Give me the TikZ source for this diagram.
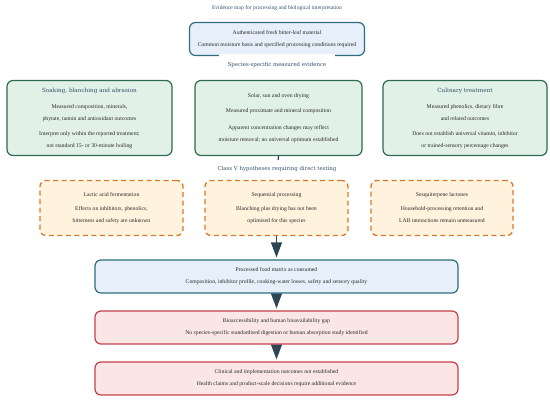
\documentclass[tikz,border=0pt]{standalone}
\usepackage{fontspec}
\setmainfont{Liberation Serif}
\newfontfamily\headfont{DejaVu Serif}
\usetikzlibrary{arrows.meta,backgrounds}
\definecolor{tealline}{HTML}{2B6E7E}
\definecolor{bluefill}{HTML}{E7EFFA}
\definecolor{greenline}{HTML}{2F6B50}
\definecolor{greenfill}{HTML}{E2F1E7}
\definecolor{orangeline}{HTML}{D9782D}
\definecolor{orangefill}{HTML}{FFF3DD}
\definecolor{redline}{HTML}{C6404A}
\definecolor{redfill}{HTML}{FBE6E6}
\definecolor{arrowc}{HTML}{2E4553}
\definecolor{headc}{HTML}{34506A}
\definecolor{bodyc}{HTML}{2A2A2A}
\begin{document}
\begin{tikzpicture}
		[x=1pt,y=-1pt,
		box/.style={rounded corners=6pt, line width=1.2pt, inner sep=0pt,
			align=center, text=bodyc, font=\fontsize{5.7}{12}\selectfont},
		bluebox/.style={box, draw=tealline, fill=bluefill,
			minimum height=33pt},
		greenbox/.style={box, draw=greenline, fill=greenfill,
			minimum height=75pt},
		hypbox/.style={box, draw=orangeline, fill=orangefill, dashed,
			dash pattern=on 5pt off 3.5pt, line width=1.3pt,
			minimum width=143pt, minimum height=55pt},
		gapbox/.style={box, draw=redline, fill=redfill,
			minimum width=363pt, minimum height=33pt},
		band/.style={fill=white, inner xsep=9pt, inner ysep=8pt,
			text=headc, font=\headfont\fontsize{5.4}{7}\selectfont},
		link/.style={draw=arrowc, line width=1.3pt,
			-{Triangle[length=15pt,width=11pt]}, shorten >=2pt}]
		\useasboundingbox (0,0) rectangle (550,403);
		\node[text=headc, font=\fontsize{5.6}{7}\selectfont] (title) at (277,8)
			{Evidence map for processing and biological interpretation};
		\node[bluebox, minimum width=175pt] (top) at (277,39)
			{Authenticated fresh bitter-leaf material\\
			Common moisture basis and specified processing conditions required};
		\node[greenbox, minimum width=165pt] (soak) at (89.5,118)
			{{\headfont\color{headc}\fontsize{5.7}{7}\selectfont Soaking, blanching and abrasion}\\[4pt]
			Measured composition, minerals,\\
			phytate, tannin and antioxidant outcomes\\[3pt]
			Interpret only within the reported treatment;\\
			not standard 15- or 30-minute boiling};
		\node[greenbox, minimum width=167pt] (dry) at (278.5,118)
			{Solar, sun and oven drying\\[3pt]
			Measured proximate and mineral composition\\[5pt]
			Apparent concentration changes may reflect\\
			moisture removal; no universal optimum established};
		\node[greenbox, minimum width=164pt] (culin) at (465,118)
			{{\headfont\color{headc}\fontsize{5.7}{7}\selectfont Culinary treatment}\\[4pt]
			Measured phenolics, dietary fibre\\
			and related outcomes\\[3pt]
			Does not establish universal vitamin, inhibitor\\
			or trained-sensory percentage changes};
		\node[hypbox] (lactic) at (111.5,208)
			{Lactic acid fermentation\\[2pt]
			Effects on inhibitors, phenolics,\\
			bitterness and safety are unknown};
		\node[hypbox] (seq) at (276.5,208)
			{Sequential processing\\[2pt]
			Blanching plus drying has not been\\
			optimised for this species};
		\node[hypbox, minimum width=142pt] (sesq) at (442,208)
			{Sesquiterpene lactones\\[2pt]
			Household-processing retention and\\
			LAB interactions remain unmeasured};
		\node[bluebox, minimum width=363pt] (matrix) at (276.5,276.5)
			{Processed food matrix as consumed\\
			Composition, inhibitor profile, cooking-water losses, safety and sensory quality};
		\node[gapbox] (bioacc) at (276.5,327.5)
			{Bioaccessibility and human bioavailability gap\\
			No species-specific standardised digestion or human absorption study identified};
		\node[gapbox] (clinic) at (276.5,378.5)
			{Clinical and implementation outcomes not established\\
			Health claims and product-scale decisions require additional evidence};
		\node[band] (measured) at (277,65) {Species-specific measured evidence};
		\node[band, inner ysep=6pt] (classv) at (277,169) {Class V hypotheses requiring direct testing};
		\begin{pgfonlayer}{background}
			\draw[link] (dry.south) -- (seq.north);
			\draw[link] (seq.south) -- (matrix.north);
			\draw[link] (matrix.south) -- (bioacc.north);
			\draw[link] (bioacc.south) -- (clinic.north);
		\end{pgfonlayer}
	\end{tikzpicture}
\end{document}
